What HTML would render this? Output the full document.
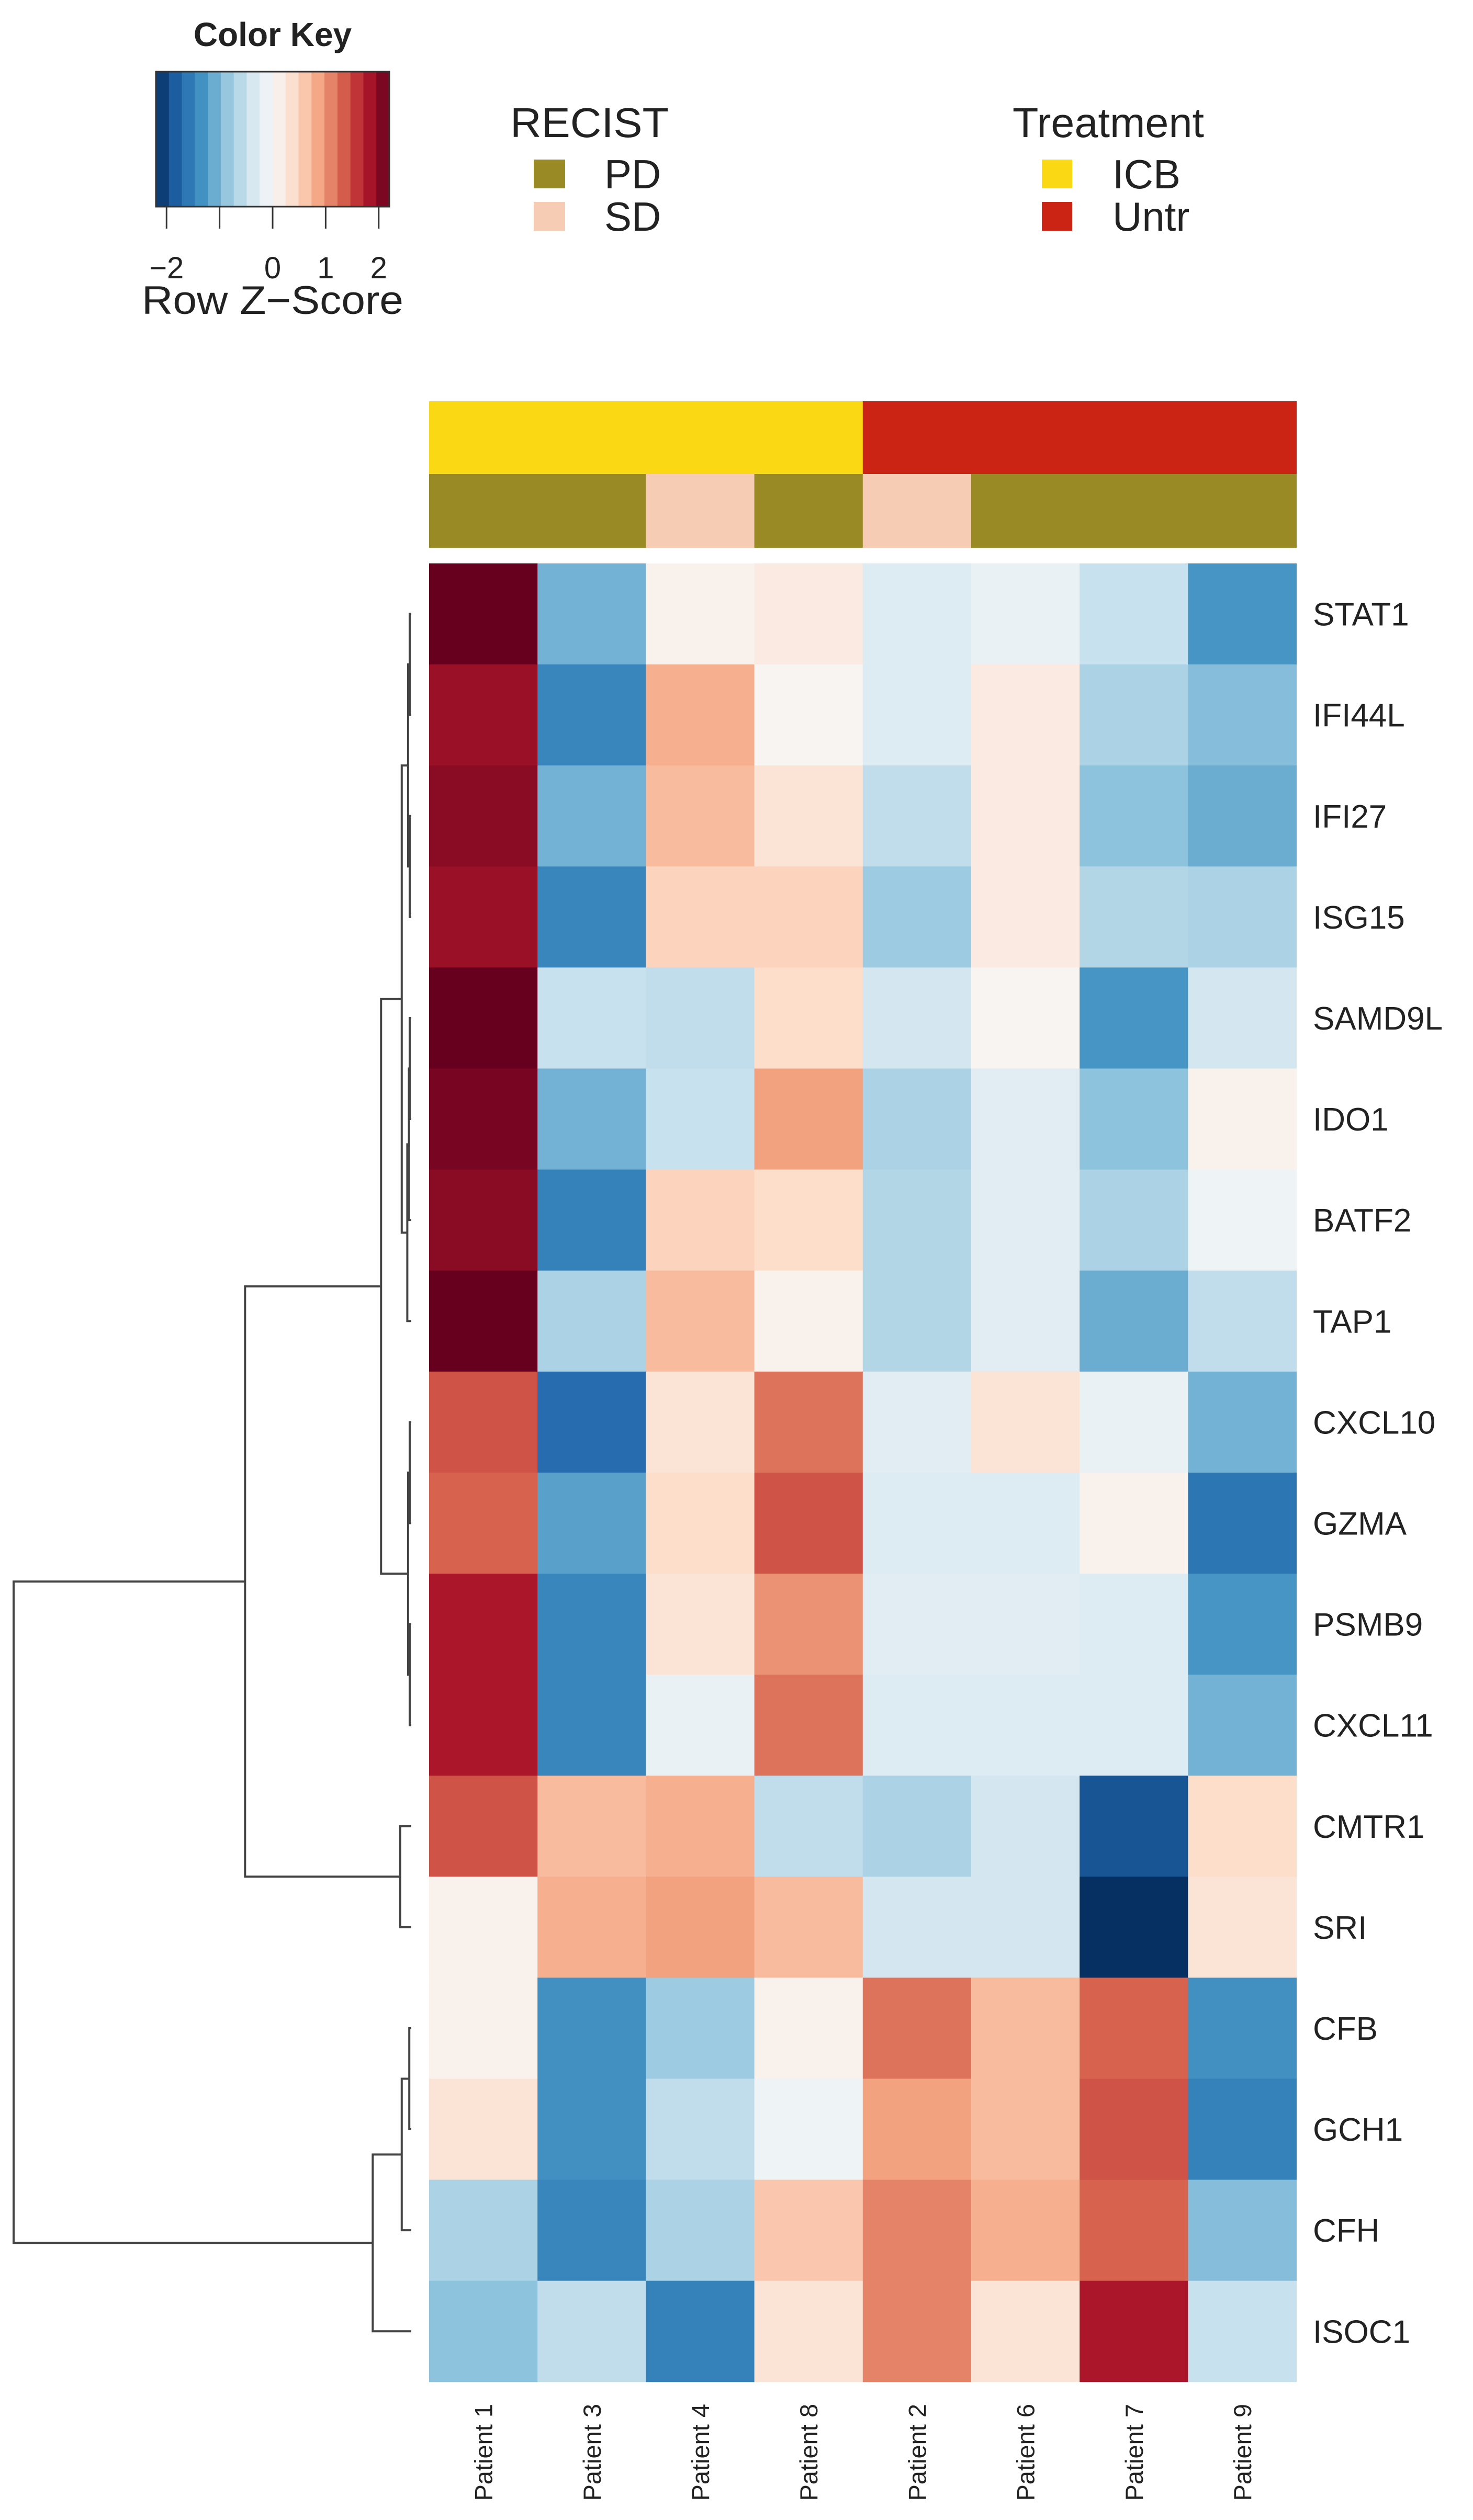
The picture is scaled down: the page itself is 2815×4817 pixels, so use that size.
<!DOCTYPE html>
<html><head><meta charset="utf-8"><style>
html,body{margin:0;padding:0;background:#fff}
svg{display:block}
text{font-family:"Liberation Sans",Arial,sans-serif;fill:#222}
</style></head><body>
<svg id="chart" xmlns="http://www.w3.org/2000/svg" width="2815" height="4817" viewBox="0 0 2815 4817">
<g id="key">
<text x="521" y="88" font-size="64" font-weight="bold" text-anchor="middle">Color Key</text>
</g>
<g>
<text x="975" y="262" font-size="80" textLength="303" lengthAdjust="spacingAndGlyphs">RECIST</text>
<rect x="1020" y="305" width="60" height="55" fill="#9a8a26"/>
<text x="1155" y="360" font-size="78">PD</text>
<rect x="1020" y="386" width="60" height="55" fill="#f6cdb4"/>
<text x="1155" y="441" font-size="78">SD</text>
</g>
<g>
<text x="1935" y="262" font-size="80" textLength="366" lengthAdjust="spacingAndGlyphs">Treatment</text>
<rect x="1991" y="305" width="58" height="55" fill="#fad814"/>
<text x="2126" y="360" font-size="78">ICB</text>
<rect x="1991" y="386" width="58" height="55" fill="#cc2414"/>
<text x="2126" y="441" font-size="78">Untr</text>
</g>
</svg>
<script>
const patients=["Patient 1","Patient 3","Patient 4","Patient 8","Patient 2","Patient 6","Patient 7","Patient 9"];
const treatment=["ICB","ICB","ICB","ICB","Untr","Untr","Untr","Untr"];
const recist=["PD","PD","SD","PD","SD","PD","PD","PD"];
const genes=["STAT1","IFI44L","IFI27","ISG15","SAMD9L","IDO1","BATF2","TAP1","CXCL10","GZMA","PSMB9","CXCL11","CMTR1","SRI","CFB","GCH1","CFH","ISOC1"];
const zSTAT1=[2.2,-1.05,0.1,0.2,-0.3,-0.15,-0.5,-1.3];
const zIFI44L=[1.9,-1.45,0.8,0.05,-0.3,0.2,-0.7,-0.95];
const zIFI27=[2.0,-1.05,0.7,0.3,-0.55,0.2,-0.9,-1.1];
const zISG15=[1.9,-1.45,0.5,0.5,-0.8,0.2,-0.65,-0.7];
const zSAMD9L=[2.3,-0.5,-0.55,0.4,-0.4,0.05,-1.3,-0.4];
const zIDO1=[2.1,-1.05,-0.5,0.9,-0.7,-0.25,-0.9,0.1];
const zBATF2=[2.0,-1.5,0.5,0.4,-0.65,-0.25,-0.7,-0.1];
const zTAP1=[2.2,-0.7,0.7,0.1,-0.65,-0.25,-1.1,-0.55];
const zCXCL10=[1.4,-1.7,0.3,1.2,-0.25,0.3,-0.15,-1.05];
const zGZMA=[1.3,-1.2,0.4,1.4,-0.3,-0.3,0.1,-1.6];
const zPSMB9=[1.8,-1.45,0.3,1.0,-0.25,-0.25,-0.3,-1.3];
const zCXCL11=[1.8,-1.45,-0.15,1.2,-0.3,-0.3,-0.3,-1.05];
const zCMTR1=[1.4,0.7,0.8,-0.55,-0.7,-0.4,-1.9,0.4];
const zSRI=[0.1,0.8,0.9,0.7,-0.4,-0.4,-2.6,0.3];
const zCFB=[0.1,-1.35,-0.8,0.1,1.2,0.7,1.3,-1.35];
const zGCH1=[0.3,-1.35,-0.55,-0.1,0.9,0.7,1.4,-1.5];
const zCFH=[-0.7,-1.45,-0.7,0.6,1.1,0.8,1.3,-0.95];
const zISOC1=[-0.9,-0.55,-1.5,0.3,1.1,0.3,1.8,-0.5];
const values=[zSTAT1,zIFI44L,zIFI27,zISG15,zSAMD9L,zIDO1,zBATF2,zTAP1,zCXCL10,zGZMA,zPSMB9,zCXCL11,zCMTR1,zSRI,zCFB,zGCH1,zCFH,zISOC1];
const keyTicks=[-2,0,1,2];
// dendrogram: [left,right,height]; leaves are row indices
const tree=[[[[[[0,1,0.004],[2,3,0.004],0.008],[[[4,5,0.004],6,0.006],7,0.01],0.024],[[8,9,0.004],[10,11,0.004],0.008],0.076],[12,13,0.028],0.418],[[[14,15,0.005],16,0.024],17,0.097],1.0];

const NS="http://www.w3.org/2000/svg";
const svg=document.getElementById('chart');
function mk(t,a,p){const e=document.createElementNS(NS,t);for(const k in a)e.setAttribute(k,a[k]);(p||svg).appendChild(e);return e;}
const pal=["#053061","#2166ac","#4393c3","#92c5de","#d1e5f0","#f7f7f7","#fddbc7","#f4a582","#d6604d","#b2182b","#67001f"];
const zmin=-2.2,zmax=2.2;
function hexrgb(c){return [1,3,5].map(i=>parseInt(c.substr(i,2),16));}
function color(z){let t=(z-zmin)/(zmax-zmin);t=Math.max(0,Math.min(1,t))*(pal.length-1);const i=Math.min(pal.length-2,Math.floor(t)),f=t-i;const a=hexrgb(pal[i]),b=hexrgb(pal[i+1]);return "rgb("+a.map((v,k)=>Math.round(v+(b[k]-v)*f)).join(",")+")";}
const X0=820,CW=207.2,Y0=1077,RH=193.1;
const colX=j=>X0+CW*j, rowY=i=>Y0+RH*i;
// color key
const KX0=298,KX1=744,kx=z=>KX0+(z-zmin)/(zmax-zmin)*(KX1-KX0);
const nS=18;
for(let s=0;s<nS;s++){const z0=zmin+(zmax-zmin)*s/nS,z1=zmin+(zmax-zmin)*(s+1)/nS;
const r=mk('rect',{x:kx(z0),y:137,width:kx(z1)-kx(z0)+0.5,height:258,fill:color((z0+z1)/2)});

}
const kb=mk('rect',{x:KX0,y:137,width:KX1-KX0,height:258,fill:'none',stroke:'#333','stroke-width':3});


[-2,-1,0,1,2].forEach(z=>{const l=mk('line',{x1:kx(z),x2:kx(z),y1:395,y2:437,stroke:'#333','stroke-width':3});

});
keyTicks.forEach(z=>{const t=mk('text',{x:kx(z),y:532,'font-size':58,'text-anchor':'middle'});t.textContent=z<0?'\u22122':String(z);

});
const rz=mk('text',{x:521,y:600,'font-size':76,'text-anchor':'middle',textLength:500,lengthAdjust:'spacingAndGlyphs'});rz.textContent='Row Z\u2212Score';


// annotation bars
const tc={ICB:'#fad814',Untr:'#cc2414'},rc={PD:'#9a8a26',SD:'#f6cdb4'};
patients.forEach((p,j)=>{
const a=mk('rect',{x:colX(j),y:767,width:CW+0.5,height:139,fill:tc[treatment[j]]});


const b=mk('rect',{x:colX(j),y:906,width:CW+0.5,height:141,fill:rc[recist[j]]});


const cx=colX(j)+CW/2+17;
const t=mk('text',{x:cx,y:4595,'font-size':47,'text-anchor':'end',fill:'#333',transform:'rotate(-90 '+cx+' 4595)'});t.textContent=p;


});
// heatmap
values.forEach((row,i)=>{row.forEach((z,j)=>{
const r=mk('rect',{x:colX(j),y:rowY(i),width:CW+0.5,height:RH+0.5,fill:color(z)});

});
const t=mk('text',{x:2509,y:rowY(i)+RH/2+22,'font-size':62,fill:'#333'});t.textContent=genes[i];

});
// dendrogram
const LX=786,RX=26,hxp=h=>LX-h*(LX-RX);
function draw(n){ if(typeof n==='number')return {y:rowY(n)+RH/2,x:LX};
 const a=draw(n[0]);
 const b=draw(n[1]); const x=hxp(n[2]);
 const p=mk('path',{d:`M${a.x},${a.y}H${x}V${b.y}H${b.x}`,fill:'none',stroke:'#444','stroke-width':4});
 
 
 return {x:x,y:(a.y+b.y)/2};}
draw(tree);
</script>
</body></html>
